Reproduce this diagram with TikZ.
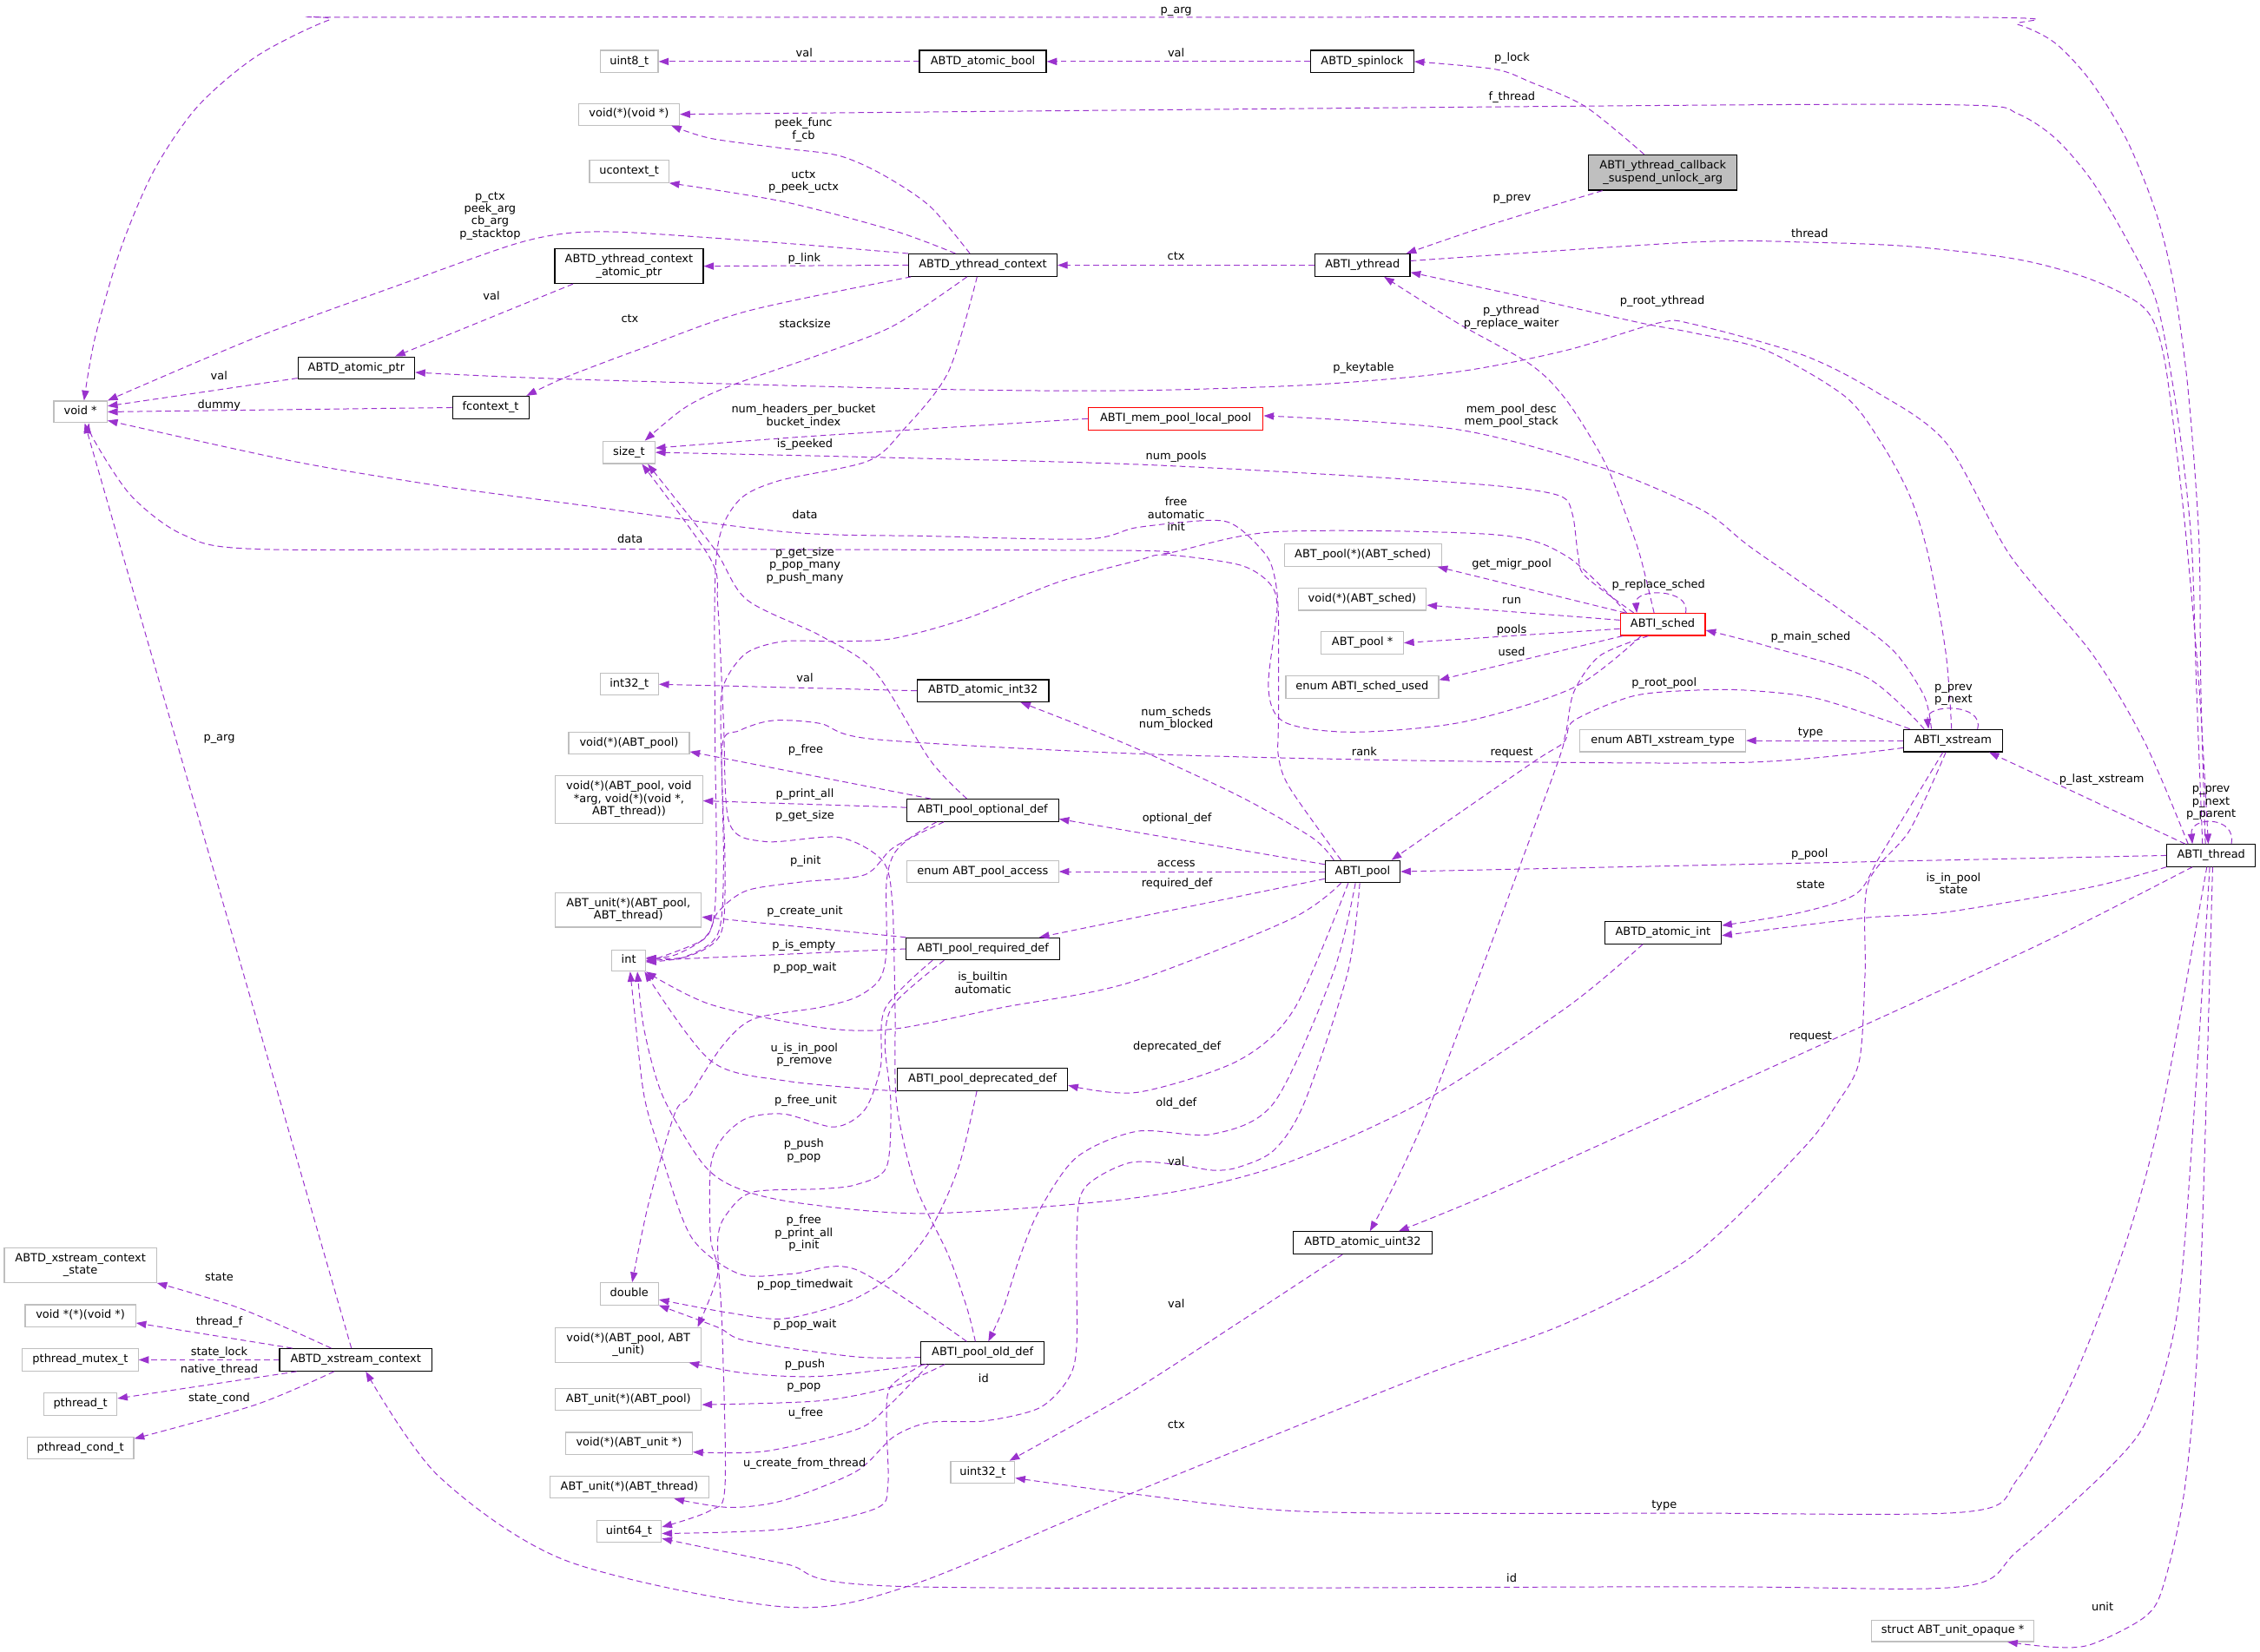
\documentclass[tikz,border=0pt]{standalone}
\usepackage{fontspec}
\setmainfont{DejaVu Sans}
\usetikzlibrary{arrows.meta}
\definecolor{edgec}{HTML}{9A32CD}
\definecolor{grayb}{HTML}{BFBFBF}
\newcommand\nf{\fontsize{7.8}{8.7}\selectfont}
\newcommand\mynode[7]{\node[#1,minimum width=#5pt,minimum height=#6pt] (#2) at (#3,#4) {#7};}
\newcommand\mylab[4]{\node[lbl,sl] (#1) at (#2,#3) {#4};}
\newcommand\mylabm[4]{\node[lbl] (#1) at (#2,#3) {#4};}
\begin{document}
\begin{tikzpicture}[x=1pt,y=-1pt,
  every node/.style={font=\nf, inner sep=0pt, align=center},
  sl/.style={text height=5.7pt, text depth=1.9pt},
  b/.style={draw=black, line width=0.7pt},
  g/.style={draw=grayb, line width=0.7pt},
  r/.style={draw=red, line width=0.7pt},
  f/.style={draw=black, line width=0.7pt, fill=grayb},
  lbl/.style={},
  e/.style={draw=edgec, line width=0.6pt, dash pattern=on 4pt off 2.5pt, -{Triangle[length=7pt,width=5pt,fill=edgec]}}]
\useasboundingbox (0,0) rectangle (1568,1146);
% ---------------- nodes
\mynode{g,sl}{voidp}{55.8}{285.8}{37}{15}{void *}
\mynode{g,sl}{uint8}{436.6}{42.7}{40}{15.5}{uint8\_t}
\mynode{g,sl}{vfv}{436.4}{79.3}{70}{15}{void(*)(void *)}
\mynode{g,sl}{uctx}{436.5}{118.9}{55}{15.5}{ucontext\_t}
\mynode{b}{ycap}{436.4}{184.7}{103}{24}{ABTD\_ythread\_context\\\_atomic\_ptr}
\mynode{b,sl}{aptr}{247.2}{255.4}{81}{15.5}{ABTD\_atomic\_ptr}
\mynode{b,sl}{fctx}{340.4}{282.8}{53}{15.7}{fcontext\_t}
\mynode{g,sl}{sizet}{436.4}{313.9}{36}{15.5}{size\_t}
\mynode{g,sl}{int32}{436.6}{474.8}{40.4}{15}{int32\_t}
\mynode{g,sl}{vfpool}{436.4}{515.6}{83.7}{15.4}{void(*)(ABT\_pool)}
\mynode{g}{vfprint}{436.4}{554.7}{102}{33.2}{void(*)(ABT\_pool, void\\*arg, void(*)(void *,\\ABT\_thread))}
\mynode{g}{ucreate}{436}{631.3}{101.3}{24}{ABT\_unit(*)(ABT\_pool,\\ABT\_thread)}
\mynode{g,sl}{int}{436.2}{666.5}{23.3}{14.7}{int}
\mynode{g,sl}{double}{436.6}{897.8}{40.4}{15.3}{double}
\mynode{g}{vfpu}{436}{933.2}{101.3}{24}{void(*)(ABT\_pool, ABT\\\_unit)}
\mynode{g,sl}{upool}{436}{971}{101.3}{14.7}{ABT\_unit(*)(ABT\_pool)}
\mynode{g,sl}{vfu}{436.4}{1001.6}{88}{15.3}{void(*)(ABT\_unit *)}
\mynode{g,sl}{uthr}{436.7}{1032}{110.2}{15.2}{ABT\_unit(*)(ABT\_thread)}
\mynode{g,sl}{uint64}{436.4}{1062.6}{45}{15}{uint64\_t}
\mynode{g}{xcs}{55.8}{877.9}{105.5}{24}{ABTD\_xstream\_context\\\_state}
\mynode{g,sl}{vpvp}{55.8}{913}{76.6}{15.2}{void *(*)(void *)}
\mynode{g,sl}{mutex}{55.7}{943.6}{80.3}{15.5}{pthread\_mutex\_t}
\mynode{g,sl}{pth}{55.8}{974.4}{50.7}{15.5}{pthread\_t}
\mynode{g,sl}{cond}{55.8}{1004.8}{74}{15}{pthread\_cond\_t}
\mynode{b,sl}{xsc}{246.8}{943.6}{105.7}{15.5}{ABTD\_xstream\_context}
\mynode{b,sl}{abool}{681.9}{42.7}{88}{15.5}{ABTD\_atomic\_bool}
\mynode{b,sl}{yctx}{681.9}{184}{103}{15.5}{ABTD\_ythread\_context}
\mynode{b,sl}{aint32}{682}{479.3}{91.3}{15.3}{ABTD\_atomic\_int32}
\mynode{b,sl}{optdef}{681.8}{562.3}{105.2}{15.4}{ABTI\_pool\_optional\_def}
\mynode{g,sl}{access}{681.8}{604.8}{105.2}{15.3}{enum ABT\_pool\_access}
\mynode{b,sl}{reqdef}{682}{658.4}{106.5}{15.3}{ABTI\_pool\_required\_def}
\mynode{b,sl}{depdef}{681.7}{749.1}{118}{15.5}{ABTI\_pool\_deprecated\_def}
\mynode{b,sl}{olddef}{681.7}{938.8}{85.7}{15.2}{ABTI\_pool\_old\_def}
\mynode{g,sl}{uint32}{681.8}{1021.6}{44.4}{15.3}{uint32\_t}
\mynode{b,sl}{spin}{945.1}{42.7}{71.5}{15.5}{ABTD\_spinlock}
\mynode{f}{cb}{1153.7}{119.7}{103.2}{24.5}{ABTI\_ythread\_callback\\\_suspend\_unlock\_arg}
\mynode{b,sl}{yth}{945.3}{184}{66}{15.5}{ABTI\_ythread}
\mynode{r,sl}{mempool}{815.7}{290.5}{121.4}{15.5}{ABTI\_mem\_pool\_local\_pool}
\mynode{g,sl}{poolfn}{945.5}{385.2}{109}{15.5}{ABT\_pool(*)(ABT\_sched)}
\mynode{g,sl}{vfsched}{945.1}{415.9}{89}{15.2}{void(*)(ABT\_sched)}
\mynode{g,sl}{poolp}{945.2}{446.1}{57}{15.3}{ABT\_pool *}
\mynode{g,sl}{schedused}{945.1}{476.8}{106}{15.3}{enum ABTI\_sched\_used}
\mynode{b,sl}{pool}{945.4}{604.8}{52}{15.3}{ABTI\_pool}
\mynode{b,sl}{aint}{1153.8}{647.2}{81}{15.3}{ABTD\_atomic\_int}
\mynode{b,sl}{auint32}{945.4}{862.4}{96.3}{15.5}{ABTD\_atomic\_uint32}
\mynode{r,sl}{sched}{1153.6}{433.3}{59}{15.3}{ABTI\_sched}
\mynode{g,sl}{xtype}{1153.6}{513.9}{115}{15.5}{enum ABTI\_xstream\_type}
\mynode{b,sl}{xs}{1355}{513.9}{68.5}{15.5}{ABTI\_xstream}
\mynode{b,sl}{thread}{1534.1}{593.6}{61.4}{15.3}{ABTI\_thread}
\mynode{g,sl}{unitop}{1354.8}{1131.6}{112.4}{15}{struct ABT\_unit\_opaque *}
% ---------------- edges
\draw[e] plot[smooth] coordinates {([xshift=-4pt]thread.north) (1527,480) (1526,386) (1523,330) (1517,260) (1508,197) (1496,148) (1476,98) (1451,57) (1426,30) (1400,17) (1368,12) (800,12) (254,12) (228,14) (178,39) (137,74) (107,118) (84,172) (66,234) ([xshift=2.5pt]voidp.north)};
\draw[e] plot[smooth] coordinates {([xshift=-6pt]thread.north) (1524,480) (1521,386) (1516,330) (1508,270) (1496,209) (1476,167) (1451,125) (1426,96) (1400,79) (1368,73) (1175,73) (vfv.east)};
\draw[e] plot[smooth] coordinates {([yshift=3pt]yth.east) (1175,168) (1250,168) (1325,171) (1400,180) (1451,194) (1488,214) (1501,246) (1511,320) (1518,386) (1526,480) ([xshift=-2pt]thread.north)};
\draw[e] plot[smooth] coordinates {([xshift=-13pt]cb.north) (1100,74) (1062,57) (1037,48) (spin.east)};
\draw[e] plot[smooth] coordinates {([xshift=10pt]cb.south west) (1037,155) ([xshift=-3pt]yth.north east)};
\draw[e] (abool.west) -- (uint8.east);
\draw[e] (spin.west) -- (abool.east);
\draw[e] plot[smooth] coordinates {([xshift=-9pt]yctx.north) (645,143) (612,121) (582,108) (544,103) (493,96) ([xshift=-6pt]vfv.south east)};
\draw[e] plot[smooth] coordinates {([xshift=-19pt]yctx.north) (620,160) (544,140) (uctx.south east)};
\draw[e] plot[smooth] coordinates {(yctx.north west) (560,170) (493,165) (430,161) (392,162) (355,170) (279,197) (178,234) (voidp.north east)};
\draw[e] (yctx.west) -- (ycap.east);
\draw[e] (yth.west) -- (yctx.east);
\draw[e] plot[smooth] coordinates {([xshift=-1pt]xs.north) (1350,453) (1338,386) (1325,344) (1305,307) (1280,275) (1225,243) (1175,231) (1138,224) (1062,207) ([yshift=-5pt]yth.east)};
\draw[e] plot[smooth] coordinates {([xshift=-6pt]sched.north) (1138,386) (1128,357) (1113,320) (1087,278) (1062,253) (1011,224) ([xshift=15pt]yth.south)};
\draw[e] ([xshift=13pt]ycap.south west) -- ([xshift=27pt]aptr.north);
\draw[e] plot[smooth] coordinates {([xshift=2pt]yctx.south west) (518,216) (442,243) (392,262) ([xshift=-2pt]fctx.north east)};
\draw[e] plot[smooth] coordinates {([xshift=-11pt]yctx.south) (620,226) (569,246) (506,268) (475,283) ([xshift=11pt]sizet.north)};
\draw[e] plot[smooth] coordinates {([xshift=-16pt]thread.north) (1488,515) (1451,453) (1395,386) (1350,307) (1300,271) (1250,246) (1175,225) (1151,224) (1087,243) (1011,258) (910,267) (783,271) (645,270) (392,263) ([yshift=-3pt]aptr.east)};
\draw[e] ([yshift=-7pt]aptr.west) -- ([yshift=4pt]voidp.east);
\draw[e] (fctx.west) -- (voidp.east);
\draw[e] plot[smooth] coordinates {(mempool.west) (620,299) (544,304) ([yshift=3pt]sizet.east)};
\draw[e] plot[smooth] coordinates {([xshift=-20pt]sched.north) (1100,400) (1095,386) (1091,357) (1082,344) (1037,337) (935,330) (783,322) (594,317) (sizet.east)};
\draw[e] plot[smooth] coordinates {([xshift=-15pt]xs.north) (1335,483) (1315,453) (1285,429) (1215,380) (1181,354) (1113,325) (1011,298) ([yshift=2pt]mempool.east)};
\draw[e] plot[smooth] coordinates {([xshift=-4pt]yctx.south) (658,258) (627,298) (602,320) (539,334) (511,349) (497,386) (496,500) (497,600) (493,645) (470,662) ([yshift=1pt]int.east)};
\draw[e] plot[smooth] coordinates {([xshift=-15pt]sched.south) (1092,477) (1015,501) (938,508) (891,501) (880,477) (886,423) (881,405) (860,392) (809,385) (789,389) (734,404) (671,429) (620,443) (582,445) (544,445) (518,453) (503,473) (500,497) (502,600) (498,648) (475,664) ([yshift=-1pt]int.east)};
\draw[e] plot[smooth] coordinates {([xshift=-15pt]pool.north) (895,547) (887,525) (887,500) (887,430) (885,404) (879,386) (859,366) (841,361) (789,366) (754,374) (645,372) (544,369) (392,349) (304,337) (203,320) ([yshift=-6pt]voidp.east)};
\draw[e] plot[smooth] coordinates {([xshift=-25pt]sched.north) (1087,386) (1037,371) (885,369) (809,384) (783,382) (398,381) (178,381) (127,371) (91,344) (65,305) ([xshift=6pt]voidp.south)};
\draw[e] ([xshift=-3pt]xsc.north) -- ([xshift=3pt]voidp.south);
\draw[e] plot[smooth] coordinates {([xshift=-17pt]xsc.north) (167,908) (xcs.south east)};
\draw[e] ([xshift=-44pt]xsc.north) -- ([yshift=-5pt]vpvp.east);
\draw[e] (xsc.west) -- (mutex.east);
\draw[e] ([xshift=-41pt]xsc.south) -- ([yshift=4pt]pth.east);
\draw[e] plot[smooth] coordinates {([xshift=-15pt]xsc.south) (177.5,974.7) ([yshift=6.5pt]cond.east)};
\draw[e] plot[smooth] coordinates {([xshift=-5pt]xs.south) (1325,576) (1296,613) (1294,675) (1290,736) (1275,765) (1250,798) (1175,871) (1087,918) (986,955) (783,1037) (632,1100) (544,1115) (393,1083) (304,1024) ([xshift=7pt]xsc.south)};
\draw[e] plot[smooth] coordinates {([xshift=-11pt]optdef.north) (645,527) (607,466) (569,441) (518,416) (495,380) ([xshift=13pt]sizet.south)};
\draw[e] plot[smooth] coordinates {([xshift=-5pt]olddef.north) (671,908) (658,871) (635,822) (622,765) (621,700) (619,625) (612,597) (582,581) (531,584) (506,571) (502,500) (498,420) (493,388) ([xshift=9pt]sizet.south)};
\draw[e] ([xshift=-36pt]optdef.north) -- ([yshift=-6pt]vfpool.east);
\draw[e] ([yshift=2pt]optdef.west) -- ([yshift=-1pt]vfprint.east);
\draw[e] plot[smooth] coordinates {([xshift=-27pt]optdef.south) (620,588) (600,607) (556,612) (518,618) (498,633) (488,652) ([yshift=-1pt]int.east)};
\draw[e] plot[smooth] coordinates {([xshift=-32pt]optdef.south) (632,581) (620,593) (615,613) (615,660) (610,680) (594,692) (569,699) (523,707) (501,726) (478,761) (468,773) (450,835) ([xshift=2pt]double.north)};
\draw[e] (reqdef.north west) -- ([yshift=-5pt]ucreate.east);
\draw[e] (reqdef.west) -- (int.east);
\draw[e] plot[smooth] coordinates {([xshift=-15pt]pool.south) (895,638) (783,682) (696,699) (620,714) (569,713) (493,697) (int.south east)};
\draw[e] ([yshift=5pt]pool.west) -- ([yshift=-6pt]optdef.east);
\draw[e] (pool.west) -- (access.east);
\draw[e] ([yshift=-5pt]pool.west) -- ([xshift=39pt]reqdef.north);
\draw[e] plot[smooth] coordinates {([xshift=-10pt]pool.south) (898,700) (859,736) (789,758) ([yshift=-4pt]depdef.east)};
\draw[e] plot[smooth] coordinates {([xshift=-5pt]pool.south) (925,675) (884,765) (841,787) (789,785) (747,803) (721,840) (708,871) (696,908) ([xshift=4pt]olddef.north)};
\draw[e] plot[smooth] coordinates {([xshift=-2pt]pool.south) (935,675) (905,765) (884,798) (859,810) (841,812) (816,808) (783,807) (752,825) (747,859) (747,933) (741,957) (721,977) (683,986) (645,987) (620,997) (594,1021) (544,1041) (506,1046) ([xshift=31pt]uthr.south)};
\draw[e] plot[smooth] coordinates {([xshift=-14pt]aint.south) (1087,699) (986,765) (884,810) (789,831) (645,842) (556,835) (513,825) (488,808) (460,761) (447,715) ([xshift=6pt]int.south)};
\draw[e] plot[smooth] coordinates {([xshift=-11pt]olddef.north) (594,881) (549,884) (513,884) (480,859) (460,805) (447,761) (440,700) ([xshift=1pt]int.south)};
\draw[e] plot[smooth] coordinates {(depdef.south west) (545,750) (493,736) ([xshift=-1pt]int.south east)};
\draw[e] plot[smooth] coordinates {([xshift=-4pt]depdef.south) (665,810) (645,854) (620,884) (589,903) (544,915) (506,911) ([yshift=-4pt]double.east)};
\draw[e] plot[smooth] coordinates {([yshift=-3pt]olddef.west) (594,941.5) (518,930.5) (498,921) (double.south east)};
\draw[e] plot[smooth] coordinates {([xshift=4pt]olddef.south west) (569,955) (518,953) ([xshift=-9pt]vfpu.south east)};
\draw[e] plot[smooth] coordinates {([xshift=17pt]olddef.south west) (620,962) (569,972) ([yshift=-3.7pt]upool.east)};
\draw[e] plot[smooth] coordinates {([xshift=6pt]olddef.south west) (615,977) (594,992) (531,1007) ([yshift=-6pt]vfu.east)};
\draw[e] plot[smooth] coordinates {([xshift=2pt]olddef.south west) (618,962) (615,985) (616,1031) (607,1047) (544,1061) ([yshift=-1.5pt]uint64.east)};
\draw[e] plot[smooth] coordinates {([xshift=-27pt]reqdef.south) (620,697) (614,724) (618,765) (615,810) (594,822) (569,825) (523,827) (506,840) (498,860) (501,921) (503,1031) (493,1048) ([yshift=3pt]uint64.east)};
\draw[e] plot[smooth] coordinates {([xshift=-35pt]reqdef.south) (614,700) (611,740) (600,770) (579,782) (544,773) (518,776) (501,790) (493,810) (493,859) (498,884) ([xshift=-3pt]vfpu.north east)};
\draw[e] (aint32.west) -- (int32.east);
\draw[e] plot[smooth] coordinates {([xshift=-20pt]pool.north) (910,581) (859,552) (783,517) ([xshift=26pt]aint32.south)};
\draw[e] plot[smooth] coordinates {([xshift=-30pt]xs.north) (1262,485) (1212,479) (1175,479) (1133,483) (1092,500) (1085,515) (1062,530) ([xshift=20pt]pool.north)};
\draw[e] plot[smooth] coordinates {([yshift=-5pt]xs.west) (1212,529) (1000,528) (789,523) (607,513) (569,502) (536,500) (513,507) (501,518) (503,600) (500,648) (476,664) ([yshift=2pt]int.east)};
\draw[e] (xs.west) -- (xtype.east);
\draw[e] plot[smooth] coordinates {([xshift=-20pt]xs.north) (1295,470) (1225,448) ([yshift=-4pt]sched.east)};
\draw[e] ([xshift=17pt]xs.north) .. controls (1377,488) and (1336,488) .. ([xshift=-17pt]xs.north);
\draw[e] ([xshift=14pt]thread.north) .. controls (1552,566) and (1519,566) .. ([xshift=-13pt]thread.north);
\draw[e] ([xshift=16pt]sched.north) .. controls (1173,408) and (1134,408) .. ([xshift=-18pt]sched.north);
\draw[e] ([xshift=-18pt]thread.north) -- ([xshift=25pt]xs.south);
\draw[e] (thread.west) -- (pool.east);
\draw[e] plot[smooth] coordinates {(thread.south west) (1451,615.5) (1350,633) (1293,637) ([yshift=-2pt]aint.east)};
\draw[e] plot[smooth] coordinates {([xshift=-7pt]xs.south) (1305,593) (1288,620) (1250,633) ([yshift=5pt]aint.east)};
\draw[e] plot[smooth] coordinates {([xshift=-13pt]thread.south) (1426,650) (1325,697) (1175,765) (1037,827) ([xshift=25pt]auint32.north)};
\draw[e] plot[smooth] coordinates {([xshift=-10pt]sched.south) (1110,455) (1092,480) (1086,510) (1075,545) (991,770) ([xshift=5pt]auint32.north)};
\draw[e] plot[smooth] coordinates {([xshift=-14pt]auint32.south) (859,918) (783,967) ([xshift=-4pt]uint32.north east)};
\draw[e] plot[smooth] coordinates {([xshift=-3pt]thread.south) (1501,765) (1476,859) (1438,958) (1400,1026) (1365,1049) (1175,1050) (910,1049) (789,1037) ([yshift=-4pt]uint32.east)};
\draw[e] plot[smooth] coordinates {([xshift=-1pt]thread.south) (1523,761) (1511,908) (1491,982) (1463,1019) (1400,1076) (1360,1101) (1175,1101) (632,1101) (544,1085) ([yshift=-5pt]uint64.east)};
\draw[e] plot[smooth] coordinates {([xshift=1pt]thread.south) (1526,908) (1516,1031) (1501,1100) (1488,1122) (1451,1141) (1426,1143) ([xshift=38pt]unitop.south)};
\draw[e] ([xshift=4pt]sched.north west) -- ([xshift=-3pt]poolfn.south east);
\draw[e] ([yshift=3pt]sched.west) -- ([yshift=-4pt]vfsched.east);
\draw[e] ([yshift=-3pt]sched.west) -- (poolp.east);
\draw[e] ([xshift=2pt]sched.south west) -- ([yshift=5pt]schedused.east);
% ---------------- labels
\mylab{l1}{816}{7.4}{p\_arg}
\mylab{l2}{558}{37.6}{val}
\mylab{l3}{816}{37.6}{val}
\mylab{l4}{1049}{40.6}{p\_lock}
\mylab{l5}{1049}{67.6}{f\_thread}
\mylabm{l6}{557.5}{90}{peek\_func\\f\_cb}
\mylabm{l7}{557.5}{126.2}{uctx\\p\_peek\_uctx}
\mylabm{l8}{340}{149.8}{p\_ctx\\peek\_arg\\cb\_arg\\p\_stacktop}
\mylab{l9}{558}{179.7}{p\_link}
\mylab{l10}{816}{178.8}{ctx}
\mylab{l11}{1049}{137.7}{p\_prev}
\mylab{l12}{1255.5}{162.8}{thread}
\mylab{l13}{1153.3}{209}{p\_root\_ythread}
\mylabm{l14}{1048.5}{220.2}{p\_ythread\\p\_replace\_waiter}
\mylab{l15}{341}{206.5}{val}
\mylab{l16}{437}{222}{ctx}
\mylab{l17}{558.4}{225.7}{stacksize}
\mylab{l18}{946}{255.7}{p\_keytable}
\mylab{l19}{152}{261.4}{val}
\mylab{l20}{152}{281.5}{dummy}
\mylabm{l21}{557.5}{288.9}{num\_headers\_per\_bucket\\bucket\_index}
\mylabm{l22}{1048.6}{288.5}{mem\_pool\_desc\\mem\_pool\_stack}
\mylab{l23}{558.4}{308.6}{is\_peeked}
\mylab{l24}{816}{317.2}{num\_pools}
\mylabm{l25}{816}{356.7}{free\\automatic\\init}
\mylab{l26}{558.4}{358.3}{data}
\mylab{l27}{437.2}{375}{data}
\mylabm{l28}{558.4}{392.4}{p\_get\_size\\p\_pop\_many\\p\_push\_many}
\mylab{l29}{1048.8}{391.8}{get\_migr\_pool}
\mylab{l30}{1150.7}{406.1}{p\_replace\_sched}
\mylab{l31}{1048.8}{417.1}{run}
\mylab{l32}{1048.8}{437.8}{pools}
\mylab{l33}{1048.8}{453}{used}
\mylab{l34}{1154.6}{474.4}{p\_root\_pool}
\mylabm{l35}{1355.3}{482}{p\_prev\\p\_next}
\mylabm{l36}{816}{498.8}{num\_scheds\\num\_blocked}
\mylab{l37}{558.4}{471.2}{val}
\mylab{l38}{946.6}{522.6}{rank}
\mylab{l39}{1048.8}{522.6}{request}
\mylab{l40}{1256.2}{508.6}{type}
\mylab{l41}{1256.2}{442.2}{p\_main\_sched}
\mylab{l42}{559}{520.9}{p\_free}
\mylab{l43}{558.4}{551.4}{p\_print\_all}
\mylab{l44}{558.4}{566.6}{p\_get\_size}
\mylab{l45}{1458.2}{541.1}{p\_last\_xstream}
\mylabm{l46}{1534}{557.2}{p\_prev\\p\_next\\p\_parent}
\mylab{l47}{816.6}{568.3}{optional\_def}
\mylab{l48}{558.9}{597.8}{p\_init}
\mylab{l49}{816.1}{599.6}{access}
\mylab{l50}{1255.5}{592.9}{p\_pool}
\mylab{l51}{816.6}{613.3}{required\_def}
\mylabm{l52}{1355.3}{612.9}{is\_in\_pool\\state}
\mylab{l53}{1256.2}{614.6}{state}
\mylab{l54}{558.4}{632.8}{p\_create\_unit}
\mylab{l55}{557.7}{656.1}{p\_is\_empty}
\mylab{l56}{558.4}{671.6}{p\_pop\_wait}
\mylabm{l57}{681.9}{682}{is\_builtin\\automatic}
\mylab{l58}{1256.2}{719.6}{request}
\mylabm{l59}{558}{732}{u\_is\_in\_pool\\p\_remove}
\mylab{l60}{816.6}{726.9}{deprecated\_def}
\mylab{l61}{559}{764}{p\_free\_unit}
\mylab{l62}{816.1}{765.7}{old\_def}
\mylabm{l63}{557.7}{798.5}{p\_push\\p\_pop}
\mylab{l64}{816.1}{806.8}{val}
\mylabm{l65}{557.7}{855.9}{p\_free\\p\_print\_all\\p\_init}
\mylab{l66}{558.4}{891.9}{p\_pop\_timedwait}
\mylab{l67}{816.1}{905.4}{val}
\mylab{l68}{558.4}{919.6}{p\_pop\_wait}
\mylab{l69}{558.4}{946.9}{p\_push}
\mylab{l70}{557.7}{961.9}{p\_pop}
\mylab{l71}{682.4}{957.5}{id}
\mylab{l72}{559}{980.9}{u\_free}
\mylab{l73}{816.1}{989.5}{ctx}
\mylab{l74}{558.2}{1016}{u\_create\_from\_thread}
\mylab{l75}{1154.6}{1044.8}{type}
\mylab{l76}{1048.8}{1095.7}{id}
\mylab{l77}{1458.7}{1116.1}{unit}
\mylab{l78}{152.1}{512.5}{p\_arg}
\mylab{l79}{152.1}{887}{state}
\mylab{l80}{152.1}{917.4}{thread\_f}
\mylab{l81}{152.1}{938.6}{state\_lock}
\mylab{l82}{152.1}{950.9}{native\_thread}
\mylab{l83}{152.1}{970.5}{state\_cond}
\end{tikzpicture}
\end{document}
